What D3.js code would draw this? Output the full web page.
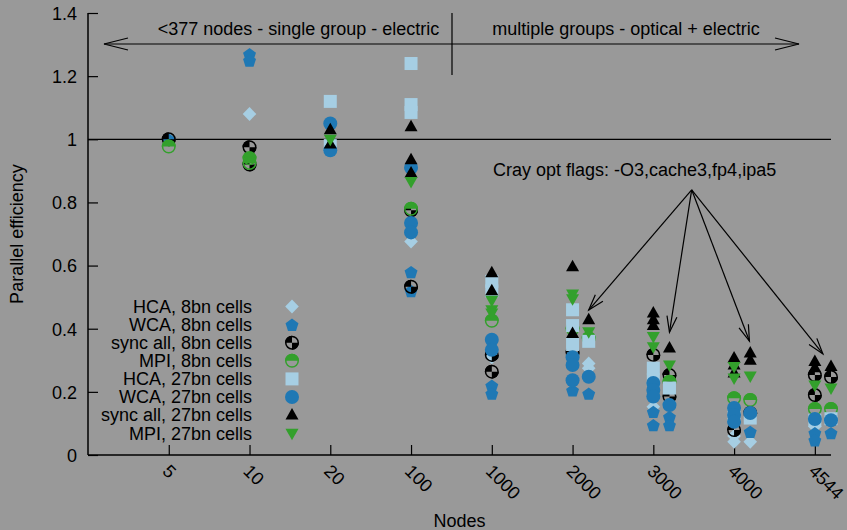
<!DOCTYPE html>
<html>
<head>
<meta charset="utf-8">
<script src="https://cdn.jsdelivr.net/npm/d3@7"></script>
<style>
  html, body { margin: 0; padding: 0; background: #999999; }
  svg { display: block; }
  text { font-family: "Liberation Sans", Arial, Helvetica, sans-serif; fill: #000; }
</style>
</head>
<body>
<svg id="chart" width="847" height="530"></svg>
<script>
// ---------- data ----------
const categories = ["5", "10", "20", "100", "1000", "2000", "3000", "4000", "4544"];
const yTicks = [0, 0.2, 0.4, 0.6, 0.8, 1, 1.2, 1.4];
const seriesNames = ["HCA, 8bn cells", "WCA, 8bn cells", "sync all, 8bn cells", "MPI, 8bn cells",
                     "HCA, 27bn cells", "WCA, 27bn cells", "sync all, 27bn cells", "MPI, 27bn cells"];

// values per category (several runs per category); default compiler flags
const hca8   = [[1.0], [1.08], [], [0.676], [0.31], [], [0.153], [0.042, 0.06], [0.09]];
const wca8   = [[1.0], [1.27, 1.25], [], [0.58, 0.52], [0.22, 0.195], [0.205], [0.137, 0.095], [], [0.07, 0.047]];
const sync8  = [[1.0], [0.975, 0.92], [], [0.775, 0.533], [0.317, 0.264], [0.325], [0.317], [0.079], [0.253, 0.19]];
const mpi8   = [[0.977], [0.94, 0.925], [], [0.78], [0.425], [0.40], [], [0.18], [0.146]];
const hca27  = [[], [], [1.12, 0.98], [1.24, 1.11, 1.085], [0.55, 0.52], [0.46, 0.41, 0.35], [0.275, 0.238], [0.125], [0.11]];
const wca27  = [[], [], [1.05, 0.965], [0.91, 0.735, 0.705], [0.365, 0.333], [0.31, 0.285, 0.237], [0.228, 0.206, 0.185], [0.149, 0.127, 0.105], [0.114]];
const sync27 = [[], [], [1.03, 0.985], [1.04, 0.935, 0.893], [0.577, 0.52], [0.596, 0.385], [0.45, 0.428, 0.41], [0.307, 0.285, 0.26], [0.296, 0.276]];
const mpi27  = [[], [], [1.0], [0.866], [0.49, 0.46, 0.45], [0.51, 0.495], [0.375, 0.343], [0.28, 0.244], [0.222]];

// Cray optimisation flags runs (-O3,cache3,fp4,ipa5)
const hca8Opt   = [[], [], [], [], [], [0.29, 0.275], [], [0.042], []];
const wca8Opt   = [[], [], [], [], [], [0.195], [0.121, 0.095], [0.074], [0.07]];
const sync8Opt  = [[], [], [], [], [], [], [0.253, 0.185], [0.133], [0.247]];
const mpi8Opt   = [[], [], [], [], [], [0.37], [0.232], [0.174], [0.146]];
const hca27Opt  = [[], [], [], [], [], [0.36], [0.212], [0.117], [0.115]];
const wca27Opt  = [[], [], [], [], [], [0.248], [0.158], [0.133], [0.11]];
const sync27Opt = [[], [], [], [], [], [0.428], [0.339], [0.323, 0.30], [0.28]];
const mpi27Opt  = [[], [], [], [], [], [0.39], [0.285], [0.25], [0.212]];

const regionLabels = ["<377 nodes - single group - electric", "multiple groups - optical + electric"];
const noteLabel = "Cray opt flags: -O3,cache3,fp4,ipa5";
// annotation anchor points in data units (x = category position, y = efficiency)
const noteFrom = [7.475, 0.84];
const noteTargets = [[6.2, 0.459], [7.2, 0.389], [8.19, 0.361], [9.1, 0.32]];

// ---------- layout ----------
const svg = d3.select("#chart");
const W = 847, H = 530;
svg.append("rect").attr("width", W).attr("height", H).attr("fill", "#999999");

const x = d3.scaleLinear().domain([0, 9.2]).range([88, 831]);
const y = d3.scaleLinear().domain([0, 1.4]).range([455, 13]);
const optShift = 0.2;
const FS = 18;

const colors = {lb: "#a6cee3", b: "#1f78b4", g: "#33a02c", k: "#000000"};

// ---------- marker drawing ----------
function pentagonPath(r) {
  const pts = d3.range(5).map(i => {
    const a = -Math.PI / 2 + i * 2 * Math.PI / 5;
    return [r * Math.cos(a), r * Math.sin(a) + 0.8];
  });
  return "M" + pts.map(p => p.join(",")).join("L") + "Z";
}
const R = 7;
const markers = [
  // HCA 8bn : diamond
  (g) => g.append("path").attr("d", "M0,-7L6.8,0L0,7L-6.8,0Z").attr("fill", colors.lb),
  // WCA 8bn : pentagon
  (g) => g.append("path").attr("d", pentagonPath(6.8)).attr("fill", colors.b),
  // sync all 8bn : quartered circle
  (g) => {
    const arc = d3.arc().innerRadius(0).outerRadius(R);
    g.append("path").attr("d", arc({startAngle: -Math.PI / 2, endAngle: 0})).attr("fill", colors.k);
    g.append("path").attr("d", arc({startAngle: Math.PI / 2, endAngle: Math.PI})).attr("fill", colors.k);
    g.append("circle").attr("r", R - 0.75).attr("fill", "none").attr("stroke", colors.k).attr("stroke-width", 1.5);
  },
  // MPI 8bn : half-filled circle
  (g) => {
    const arc = d3.arc().innerRadius(0).outerRadius(R);
    g.append("path").attr("d", arc({startAngle: -Math.PI / 2, endAngle: Math.PI / 2})).attr("fill", colors.g);
    g.append("circle").attr("r", R - 0.75).attr("fill", "none").attr("stroke", colors.g).attr("stroke-width", 1.5);
  },
  // HCA 27bn : square
  (g) => g.append("rect").attr("x", -6.5).attr("y", -6.5).attr("width", 13).attr("height", 13).attr("fill", colors.lb),
  // WCA 27bn : circle
  (g) => g.append("circle").attr("r", R).attr("fill", colors.b),
  // sync all 27bn : triangle up
  (g) => g.append("path").attr("d", "M0,-7L6.5,4.5L-6.5,4.5Z").attr("fill", colors.k),
  // MPI 27bn : triangle down
  (g) => g.append("path").attr("d", "M0,7L6.5,-4.5L-6.5,-4.5Z").attr("fill", colors.g)
];

const baseSeries = [hca8, wca8, sync8, mpi8, hca27, wca27, sync27, mpi27];
const optSeries = [hca8Opt, wca8Opt, sync8Opt, mpi8Opt, hca27Opt, wca27Opt, sync27Opt, mpi27Opt];

// ---------- axes ----------
const axisG = svg.append("g");
// y = 1 reference line
axisG.append("line").attr("x1", x(0)).attr("x2", x(9.2)).attr("y1", y(1)).attr("y2", y(1))
  .attr("stroke", "#000").attr("stroke-width", 1.2);

const yAxis = d3.axisRight(y).tickValues(yTicks).tickSize(10).tickFormat(d3.format("~g"));
const yg = svg.append("g").attr("transform", `translate(${x(0)},0)`).call(yAxis);
yg.select(".domain").attr("stroke", "#000").attr("stroke-width", 1.5).attr("d", `M0,${y(1.4)}V${y(0)}`);
yg.selectAll(".tick line").attr("stroke", "#000").attr("stroke-width", 1.2);
yg.selectAll(".tick text").attr("x", -11).attr("text-anchor", "end").attr("dy", "0.35em")
  .style("font-size", FS + "px").style("font-family", "'Liberation Sans', Arial, sans-serif").attr("fill", "#000");

const xAxis = d3.axisTop(x).tickValues(d3.range(1, 10)).tickSize(10).tickFormat(() => "");
const xg = svg.append("g").attr("transform", `translate(0,${y(0)})`).call(xAxis);
xg.select(".domain").attr("stroke", "#000").attr("stroke-width", 1.5).attr("d", `M${x(0)},0H${x(9.2)}`);
xg.selectAll(".tick line").attr("stroke", "#000").attr("stroke-width", 1.2);

svg.append("g").selectAll("text").data(categories).join("text")
  .attr("transform", (d, i) => `translate(${x(i + 1) + 2},${y(0) + 8}) rotate(45)`)
  .attr("text-anchor", "start").attr("dy", "0.72em")
  .style("font-size", FS + "px").text(d => d);

svg.append("text").attr("x", x(4.6)).attr("y", 527).attr("text-anchor", "middle")
  .style("font-size", FS + "px").text("Nodes");
svg.append("text").attr("transform", `translate(23,${y(0.7)}) rotate(-90)`).attr("text-anchor", "middle")
  .style("font-size", FS + "px").text("Parallel efficiency");

// ---------- region annotations ----------
function openHead(g, x2, y2, x1, y1, len, half) {
  const a = Math.atan2(y2 - y1, x2 - x1);
  const bx = x2 - len * Math.cos(a), by = y2 - len * Math.sin(a);
  const px = -Math.sin(a) * half, py = Math.cos(a) * half;
  g.append("path").attr("d", `M${bx + px},${by + py}L${x2},${y2}L${bx - px},${by - py}`)
    .attr("fill", "none").attr("stroke", "#000").attr("stroke-width", 1.2);
}
const ann = svg.append("g");
const arrowY = 44;
ann.append("line").attr("x1", 104).attr("x2", 799).attr("y1", arrowY).attr("y2", arrowY)
  .attr("stroke", "#000").attr("stroke-width", 1.2);
openHead(ann, 104, arrowY, 799, arrowY, 24, 6);
openHead(ann, 799, arrowY, 104, arrowY, 24, 6);
ann.append("line").attr("x1", 452).attr("x2", 452).attr("y1", 13).attr("y2", 75)
  .attr("stroke", "#000").attr("stroke-width", 1.2);
ann.append("text").attr("x", 298.5).attr("y", 35).attr("text-anchor", "middle").style("font-size", FS + "px").text(regionLabels[0]);
ann.append("text").attr("x", 626).attr("y", 35).attr("text-anchor", "middle").style("font-size", FS + "px").text(regionLabels[1]);

ann.append("text").attr("x", 493).attr("y", 176).attr("text-anchor", "start").style("font-size", FS + "px").text(noteLabel);
noteTargets.forEach(t => {
  const x1 = x(noteFrom[0]), y1 = y(noteFrom[1]), x2 = x(t[0]), y2 = y(t[1]);
  ann.append("line").attr("x1", x1).attr("y1", y1).attr("x2", x2).attr("y2", y2)
    .attr("stroke", "#000").attr("stroke-width", 1.2);
  openHead(ann, x2, y2, x1, y1, 16, 5);
});

// ---------- data points ----------
const ptsG = svg.append("g");
baseSeries.forEach((ser, si) => {
  ser.forEach((vals, ci) => {
    vals.forEach(v => {
      const g = ptsG.append("g").attr("transform", `translate(${x(ci + 1)},${y(v)})`);
      markers[si](g);
    });
  });
  optSeries[si].forEach((vals, ci) => {
    vals.forEach(v => {
      const g = ptsG.append("g").attr("transform", `translate(${x(ci + 1 + optShift)},${y(v)})`);
      markers[si](g);
    });
  });
});

// ---------- legend ----------
const leg = svg.append("g");
seriesNames.forEach((name, i) => {
  const yy = 306.5 + i * 18.1;
  leg.append("text").attr("x", 252).attr("y", yy).attr("dy", "0.35em").attr("text-anchor", "end")
    .style("font-size", FS + "px").text(name);
  const g = leg.append("g").attr("transform", `translate(292,${yy})`);
  markers[i](g);
});
</script>
</body>
</html>
